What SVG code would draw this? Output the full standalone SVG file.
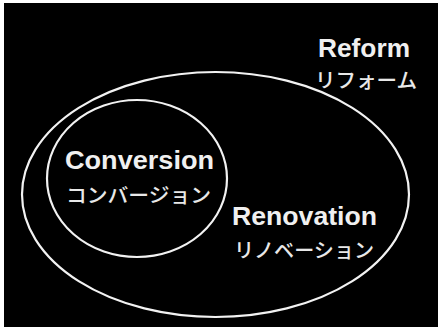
<svg xmlns="http://www.w3.org/2000/svg" width="438" height="327" viewBox="0 0 438 327">
<style>
.ring{fill:none;stroke:#f2f2f2;stroke-width:2.2}
.en{font-family:"Liberation Sans",Arial,sans-serif;font-weight:bold;font-size:26px;fill:#f0f0f0}
.jp{font-family:"Noto Sans CJK JP",sans-serif;font-size:20px;font-weight:500;fill:#e8e8e8}
</style>
<rect x="0" y="0" width="438" height="327" fill="#ffffff"/>
<rect x="4" y="3" width="434" height="324" fill="#000000"/>
<g id="reform">
<ellipse class="ring" cx="215.5" cy="194.5" rx="193.5" ry="122.5"/>
<text class="en" x="318" y="57" textLength="92" lengthAdjust="spacingAndGlyphs">Reform</text>
<text class="jp" x="315" y="88" textLength="102" lengthAdjust="spacingAndGlyphs">リフォーム</text>
</g>
<g id="conversion">
<ellipse class="ring" cx="137" cy="178.5" rx="90" ry="78.5"/>
<text class="en" x="65" y="169" textLength="149" lengthAdjust="spacingAndGlyphs">Conversion</text>
<text class="jp" x="66" y="203" textLength="145" lengthAdjust="spacingAndGlyphs">コンバージョン</text>
</g>
<g id="renovation">
<text class="en" x="232" y="225" textLength="145" lengthAdjust="spacingAndGlyphs">Renovation</text>
<text class="jp" x="234" y="258" textLength="140" lengthAdjust="spacingAndGlyphs">リノベーション</text>
</g>
</svg>
